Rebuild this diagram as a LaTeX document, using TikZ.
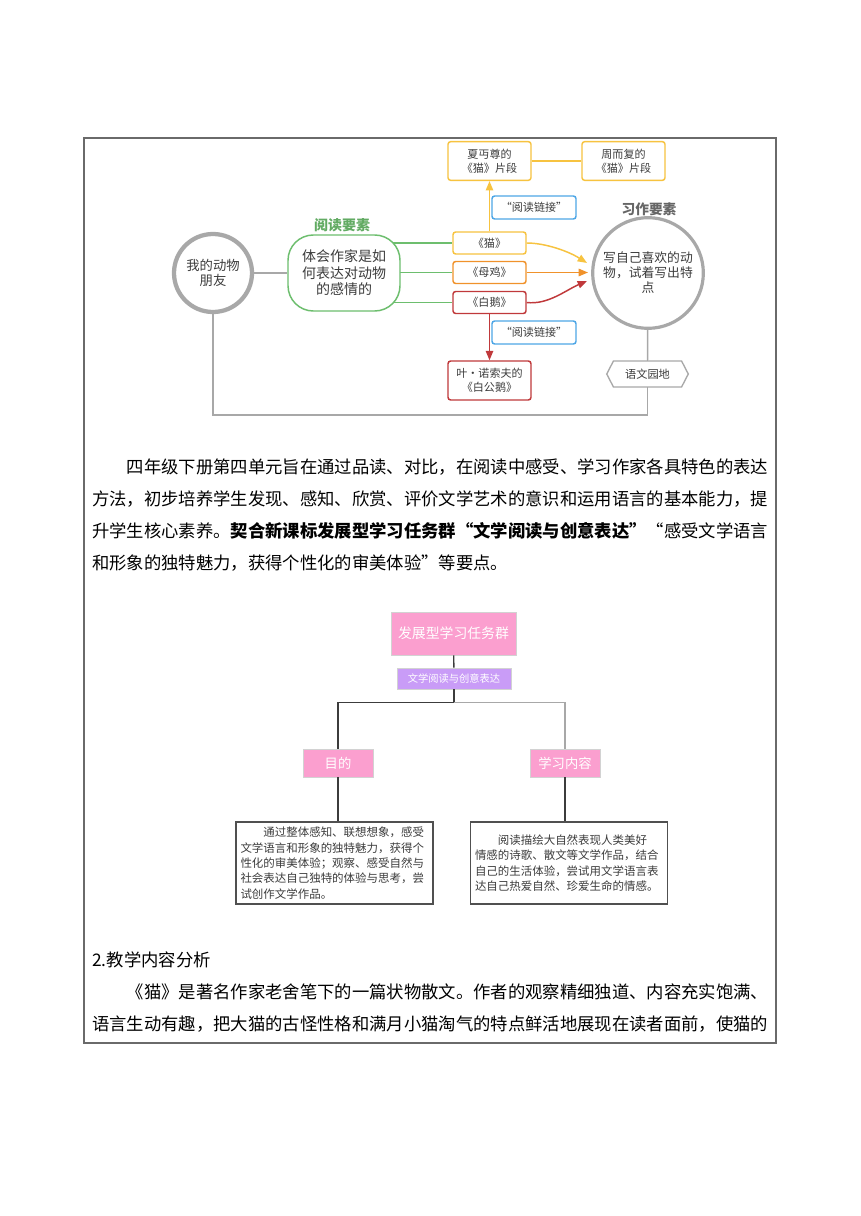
\documentclass[tikz,border=0pt]{standalone}
\usepackage{fontspec}
\setmainfont{Noto Sans CJK SC}
\usetikzlibrary{arrows.meta,calc,backgrounds}
\XeTeXlinebreaklocale "zh"
\XeTeXlinebreakskip=0pt plus 1pt
\definecolor{cyel}{HTML}{F7C340}
\definecolor{corg}{HTML}{F0922B}
\definecolor{cred}{HTML}{C0393B}
\definecolor{cgrn}{HTML}{6DBE6E}
\definecolor{cblu}{HTML}{4DA6E6}
\definecolor{cgry}{HTML}{A8A8A8}
\definecolor{ctxt}{HTML}{3C3C3C}
\definecolor{cpink}{HTML}{FB9FCF}
\definecolor{cpur}{HTML}{C99CF7}
\definecolor{cframe}{HTML}{6A6A6A}
\tikzset{
  smallbox/.style={draw, line width=1.1pt, rounded corners=2pt, fill=white, inner sep=0pt,
    minimum width=54.75pt, minimum height=16.5pt, font=\fontsize{8.3}{10.5}\selectfont, text=ctxt, align=center},
  bigbox/.style={smallbox, minimum width=62.25pt, minimum height=29pt},
  linkbox/.style={smallbox, draw=cblu, minimum width=63pt, minimum height=17.25pt},
  grayline/.style={draw=cgry, line width=1.1pt},
  greenline/.style={draw=cgrn, line width=1.1pt},
  tipA/.style={-{Triangle[length=7pt,width=5.5pt]}},
  ptext/.style={anchor=west, inner sep=0pt, font=\fontsize{13}{13}\selectfont, text=black},
  pinkbox/.style={fill=cpink, draw=gray!35, line width=0.5pt, text=white, inner sep=0pt, align=center},
  txtbox/.style={draw=ctxt!90, line width=1pt, fill=white, inner xsep=3.4pt, inner ysep=0pt,
    minimum height=61.5pt, text width=141pt, align=left, font=\fontsize{8.6}{11.5}\selectfont, text=ctxt},
  dline/.style={draw=ctxt, line width=1pt},
  lline/.style={draw=cgry, line width=1pt}
}
\begin{document}
\begin{tikzpicture}[x=0.75pt,y=-0.75pt]
\useasboundingbox (0,0) rectangle (860,1216);
\begin{scope}[on background layer]
  \fill[white] (0,0) rectangle (860,1216);
\end{scope}
% frame
\draw[cframe, line width=0.9pt] (84,138) rectangle (776,1043);

% ===== top diagram =====
\node[circle, draw=cgry, line width=3.2pt, fill=white, minimum size=58.5pt, inner sep=0pt, align=center,
  font=\fontsize{10}{11.25}\selectfont, text=ctxt] (friend) at (213,273) {我的动物\\朋友};
\node[draw=cgrn, line width=1.1pt, rounded corners=19pt, fill=white, minimum width=84pt, minimum height=57pt,
  inner sep=0pt, align=center, font=\fontsize{10.5}{12.4}\selectfont, text=ctxt] (read) at (344,273)
  {体会作家是如\\何表达对动物\\的感情的};
\node[font=\fontsize{10.5}{12}\selectfont\bfseries, text=cgrn!90!black, inner sep=0pt] (readlbl) at (342,225) {阅读要素};

\node[smallbox, draw=cyel] (cat) at (489.5,243) {《猫》};
\node[smallbox, draw=corg] (hen) at (489.5,272.5) {《母鸡》};
\node[smallbox, draw=cred] (goose) at (489.5,302.5) {《白鹅》};
\node[bigbox, draw=cyel] (xia) at (489.5,161) {夏丏尊的\\《猫》片段};
\node[bigbox, draw=cyel] (zhou) at (623.5,161) {周而复的\\《猫》片段};
\node[linkbox] (link1) at (534,207.5) {“阅读链接”};
\node[linkbox] (link2) at (534,332.5) {“阅读链接”};
\node[bigbox, draw=cred, minimum height=29.25pt] (ye) at (489.5,380.5) {叶·诺索夫的\\《白公鹅》};

\node[circle, draw=cgry, line width=2.4pt, fill=white, minimum size=83pt, inner sep=0pt, align=center,
  font=\fontsize{9.6}{11.25}\selectfont, text=ctxt] (write) at (648,273) {写自己喜欢的动\\物，试着写出特\\点};
\node[font=\fontsize{10.3}{12}\selectfont\bfseries, text=gray!80!black, inner sep=0pt] (writelbl) at (649,209) {习作要素};

\node[minimum width=60.75pt, minimum height=19pt, inner sep=0pt, font=\fontsize{8.4}{10}\selectfont, text=ctxt] (garden) at (647.5,374) {语文园地};
\draw[draw=cgry, line width=1pt, fill=white]
  (garden.west) -- ([xshift=5pt]garden.north west) -- ([xshift=-5pt]garden.north east) -- (garden.east)
  -- ([xshift=-5pt]garden.south east) -- ([xshift=5pt]garden.south west) -- cycle;
\node[inner sep=0pt, font=\fontsize{8.4}{10}\selectfont, text=ctxt] at (garden) {语文园地};

\coordinate (loop) at (430,415);
\begin{scope}[on background layer]
  \draw[grayline] (friend) -- (read);
  \draw[greenline] (read.center |- cat) -- (cat.west);
  \draw[greenline] (read.center |- hen) -- (hen.west);
  \draw[greenline] (read.center |- goose) -- (goose.west);
  \draw[grayline] (write) -- (garden.north);
  \draw[grayline] (garden.south) |- (loop) -| (friend.south);
\end{scope}
\draw[draw=cyel, line width=1.1pt] (xia) -- (zhou);
\draw[draw=cyel, line width=1.1pt, tipA] (cat.north) -- (xia.south);
\draw[draw=cred, line width=1.1pt, tipA] (goose.south) -- (ye.north);
\draw[draw=cyel, line width=1.1pt, tipA] (cat.east) .. controls (545,243) and (568,251) .. ($(write.center)+(-61,-10)$);
\draw[draw=corg, line width=1.3pt, tipA] (hen.east) -- ($(write.center)+(-60,-0.5)$);
\draw[draw=cred, line width=1.1pt, tipA] (goose.east) .. controls (548,305) and (566,290) .. ($(write.center)+(-61,8)$);

% ===== paragraph =====
\node[ptext] (p1) at (126.7,467) {\hbox to 481pt{四年级下册第四单元旨在通过品读、对比，在阅读中感受、学习作家各具特色的表达}};
\node[ptext] (p2) at (92,499) {\hbox to 507pt{方法，初步培养学生发现、感知、欣赏、评价文学艺术的意识和运用语言的基本能力，提}};
\node[ptext] (p3) at (92,531) {\hbox to 507pt{升学生核心素养。{\bfseries 契合新课标发展型学习任务群“文学阅读与创意表达”}“感受文学语言}};
\node[ptext] (p4) at (92,563) {和形象的独特魅力，获得个性化的审美体验”等要点。};

% ===== second diagram =====
\node[pinkbox, minimum width=93.75pt, minimum height=32.25pt, font=\fontsize{10.4}{12}\selectfont] (task) at (453.5,633.5) {发展型学习任务群};
\node[pinkbox, fill=cpur, minimum width=85.5pt, minimum height=15.75pt, font=\fontsize{7.7}{9}\selectfont] (lit) at (454,678.5) {文学阅读与创意表达};
\node[pinkbox, minimum width=52.5pt, minimum height=21pt, font=\fontsize{10}{12}\selectfont] (aim) at (338,763) {目的};
\node[pinkbox, minimum width=52.5pt, minimum height=21pt, font=\fontsize{10}{12}\selectfont] (cont) at (565,763) {学习内容};
\node[txtbox] (aimtxt) at (334.5,863) {\hspace*{2em}通过整体感知、联想想象，感受\\文学语言和形象的独特魅力，获得个\\性化的审美体验；观察、感受自然与\\社会表达自己独特的体验与思考，尝\\试创作文学作品。};
\node[txtbox] (conttxt) at (569,863) {\hspace*{2em}阅读描绘大自然表现人类美好\\情感的诗歌、散文等文学作品，结合\\自己的生活体验，尝试用文学语言表\\达自己热爱自然、珍爱生命的情感。};
\coordinate (jn) at ($(lit.south)+(0,13)$);
\draw[dline] (task) -- (lit);
\draw[dline] (lit.south) -- (jn) -| (aim.north);
\draw[lline] (jn) -| (cont.north);
\draw[dline] (aim.south) -- (aim.south |- aimtxt.north);
\draw[dline] (cont.south) -- (cont.south |- conttxt.north);

% ===== bottom text =====
\node[ptext] (h2) at (92,960) {2.教学内容分析};
\node[ptext] (q1) at (126.7,992) {\hbox to 481pt{《猫》是著名作家老舍笔下的一篇状物散文。作者的观察精细独道、内容充实饱满、}};
\node[ptext] (q2) at (92,1024) {\hbox to 507pt{语言生动有趣，把大猫的古怪性格和满月小猫淘气的特点鲜活地展现在读者面前，使猫的}};
\end{tikzpicture}
\end{document}
